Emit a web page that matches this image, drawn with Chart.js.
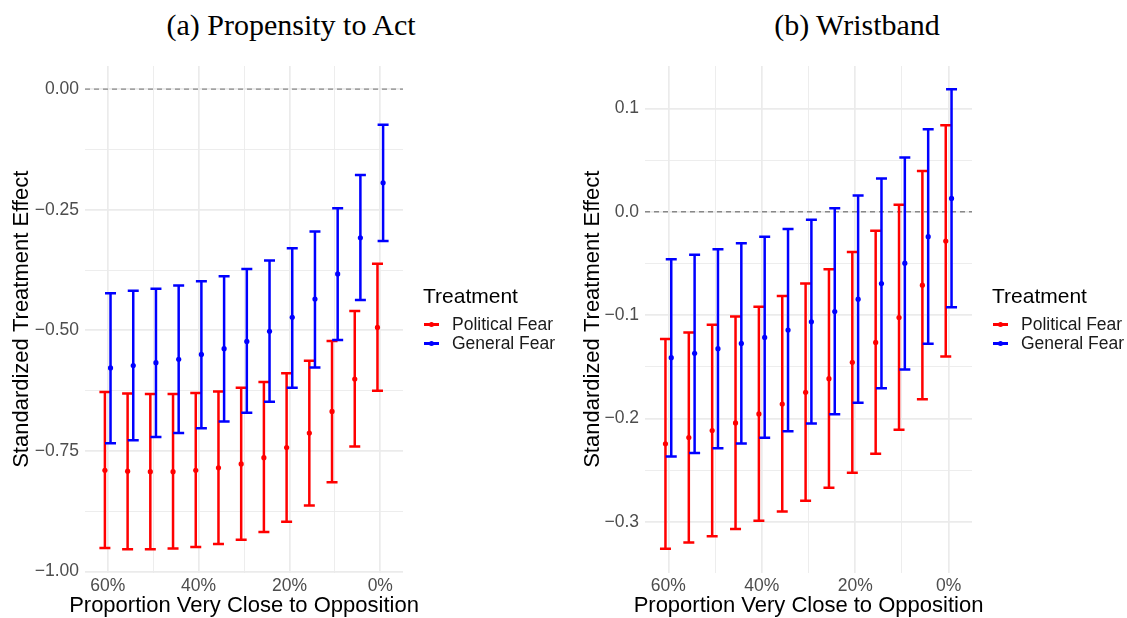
<!DOCTYPE html>
<html>
<head>
<meta charset="utf-8">
<script src="https://cdn.jsdelivr.net/npm/chart.js@4.4.1/dist/chart.umd.min.js"></script>
<style>
  body { margin: 0; width: 1127px; height: 618px; background: #fff; position: relative; overflow: hidden;
         font-family: "Liberation Sans", Arial, sans-serif; }
  canvas { position: absolute; top: 0; }
  #chartA { left: 0; }
  #chartB { left: 560px; }
  .panel-title { position: absolute; top: 10px; font-family: "Liberation Serif", "Times New Roman", serif;
                 font-size: 30px; line-height: 30px; white-space: nowrap; transform: translateX(-50%); color: #000; }
  .lg-title { position: absolute; font-size: 21px; line-height: 21px; color: #000; white-space: nowrap; }
  .lg-label { position: absolute; font-size: 17.5px; line-height: 17.5px; color: #1a1a1a; white-space: nowrap; }
  .lg-line { position: absolute; width: 15px; height: 2.5px; }
  .lg-dot { position: absolute; width: 5px; height: 5px; border-radius: 50%; }
</style>
</head>
<body>
<div class="panel-title" style="left:291px">(a) Propensity to Act</div>
<div class="panel-title" style="left:857px">(b) Wristband</div>
<canvas id="chartA" width="560" height="618"></canvas>
<canvas id="chartB" width="567" height="618"></canvas>
<script>
// x positions (proportion very close to opposition, %)
const proportions = [60, 55, 50, 45, 40, 35, 30, 25, 20, 15, 10, 5, 0];

const seriesNames = ['Political Fear', 'General Fear'];
const seriesColors = ['#ff0000', '#0000ff'];

// (a) Propensity to Act
const actPoliticalEst  = [-0.790, -0.792, -0.793, -0.793, -0.790, -0.785, -0.777, -0.764, -0.743, -0.713, -0.668, -0.601, -0.494];
const actPoliticalLow  = [-0.951, -0.954, -0.954, -0.952, -0.949, -0.943, -0.934, -0.918, -0.897, -0.863, -0.815, -0.741, -0.625];
const actPoliticalHigh = [-0.628, -0.631, -0.632, -0.632, -0.630, -0.627, -0.619, -0.607, -0.589, -0.563, -0.522, -0.460, -0.362];
const actGeneralEst    = [-0.578, -0.573, -0.567, -0.560, -0.550, -0.538, -0.523, -0.502, -0.473, -0.435, -0.383, -0.308, -0.194];
const actGeneralLow    = [-0.734, -0.728, -0.721, -0.713, -0.703, -0.689, -0.671, -0.648, -0.619, -0.577, -0.520, -0.437, -0.315];
const actGeneralHigh   = [-0.423, -0.418, -0.414, -0.407, -0.398, -0.388, -0.373, -0.355, -0.330, -0.295, -0.247, -0.178, -0.074];

// (b) Wristband
const wbPoliticalEst  = [-0.2245, -0.2184, -0.2117, -0.2043, -0.1956, -0.1860, -0.1747, -0.1615, -0.1457, -0.1264, -0.1023, -0.0710, -0.0283];
const wbPoliticalLow  = [-0.3260, -0.3200, -0.3140, -0.3070, -0.2990, -0.2900, -0.2796, -0.2670, -0.2525, -0.2340, -0.2110, -0.1815, -0.1400];
const wbPoliticalHigh = [-0.1232, -0.1168, -0.1094, -0.1013, -0.0920, -0.0814, -0.0695, -0.0556, -0.0389, -0.0183, 0.0068, 0.0393, 0.0837];
const wbGeneralEst    = [-0.1412, -0.1370, -0.1325, -0.1274, -0.1216, -0.1145, -0.1065, -0.0965, -0.0846, -0.0695, -0.0498, -0.0241, 0.0129];
const wbGeneralLow    = [-0.2368, -0.2333, -0.2287, -0.2242, -0.2187, -0.2123, -0.2049, -0.1959, -0.1847, -0.1708, -0.1525, -0.1277, -0.0923];
const wbGeneralHigh   = [-0.0460, -0.0415, -0.0363, -0.0305, -0.0241, -0.0167, -0.0077, 0.0033, 0.0158, 0.0322, 0.0525, 0.0798, 0.1184];

// ticks
const xMajorTicks = [60, 40, 20, 0];
const xMinorTicks = [50, 30, 10];
const xTickLabels = ['60%', '40%', '20%', '0%'];

const actYMajorTicks = [0, -0.25, -0.5, -0.75, -1];
const actYMinorTicks = [-0.125, -0.375, -0.625, -0.875];
const actYTickLabels = ['0.00', '\u22120.25', '\u22120.50', '\u22120.75', '\u22121.00'];

const wbYMajorTicks = [0.1, 0, -0.1, -0.2, -0.3];
const wbYMinorTicks = [0.05, -0.05, -0.15, -0.25];
const wbYTickLabels = ['0.1', '0.0', '\u22120.1', '\u22120.2', '\u22120.3'];

const xTitle = 'Proportion Very Close to Opposition';
const yTitle = 'Standardized Treatment Effect';

Chart.defaults.font.family = '"Liberation Sans", Arial, sans-serif';
Chart.defaults.animation = false;

const DODGE = 0.62;
const CAP = 5.5;

function isIn(list, v) {
  return list.some(m => Math.abs(m - v) < 1e-9);
}

// dashed zero line + error bars behind the points; x title drawn by hand
// (Chart.js squeezes a scale title to the axis width)
const errorBarPlugin = {
  id: 'errorBars',
  beforeDatasetsDraw(chart) {
    const { ctx, chartArea, scales: { x, y } } = chart;
    ctx.save();
    const y0 = y.getPixelForValue(0);
    ctx.strokeStyle = '#888888';
    ctx.lineWidth = 1.3;
    ctx.setLineDash([5, 4]);
    ctx.beginPath();
    ctx.moveTo(chartArea.left, y0);
    ctx.lineTo(chartArea.right, y0);
    ctx.stroke();
    ctx.setLineDash([]);
    chart.data.datasets.forEach(ds => {
      ctx.strokeStyle = ds.backgroundColor;
      ctx.lineWidth = 2.5;
      ds.data.forEach(pt => {
        const px = x.getPixelForValue(pt.x);
        const lo = y.getPixelForValue(pt.low);
        const hi = y.getPixelForValue(pt.high);
        ctx.beginPath();
        ctx.moveTo(px, lo); ctx.lineTo(px, hi);
        ctx.moveTo(px - CAP, lo); ctx.lineTo(px + CAP, lo);
        ctx.moveTo(px - CAP, hi); ctx.lineTo(px + CAP, hi);
        ctx.stroke();
      });
    });
    ctx.restore();
  },
  afterDraw(chart) {
    const { ctx, chartArea } = chart;
    ctx.save();
    ctx.font = '22px "Liberation Sans", Arial, sans-serif';
    ctx.fillStyle = '#000';
    ctx.textAlign = 'center';
    ctx.textBaseline = 'middle';
    ctx.fillText(xTitle, (chartArea.left + chartArea.right) / 2, 606);
    ctx.restore();
  }
};

function makeSeries(est, low, high, offset) {
  return proportions.map((p, i) => ({ x: p + offset, y: est[i], low: low[i], high: high[i] }));
}

function buildChart(id, series, yOpts) {
  const datasets = series.map((s, k) => ({
    label: seriesNames[k],
    data: s,
    backgroundColor: seriesColors[k],
    borderWidth: 0,
    pointRadius: 2.6,
    pointHoverRadius: 2.6
  }));

  const gridColor = '#ebebeb';
  return new Chart(document.getElementById(id), {
    type: 'scatter',
    data: { datasets },
    plugins: [errorBarPlugin],
    options: {
      responsive: false,
      events: [],
      layout: { padding: { top: 66, right: yOpts.rightPad, bottom: 0, left: 0 } },
      plugins: { legend: { display: false }, tooltip: { enabled: false } },
      scales: {
        x: {
          type: 'linear',
          reverse: true,
          min: -5,
          max: 65,
          afterFit(scale) { scale.height = 45.5; },
          afterBuildTicks(scale) {
            scale.ticks = xMajorTicks.concat(xMinorTicks).sort((a, b) => a - b).map(v => ({ value: v }));
          },
          ticks: {
            autoSkip: false,
            maxRotation: 0,
            padding: 3,
            color: '#4d4d4d',
            font: { size: 17.5 },
            callback: v => { const i = xMajorTicks.findIndex(m => Math.abs(m - v) < 1e-9); return i >= 0 ? xTickLabels[i] : ''; }
          },
          grid: {
            drawTicks: false,
            color: gridColor,
            lineWidth: c => (c.tick && isIn(xMajorTicks, c.tick.value)) ? 1.7 : 0.9
          },
          border: { display: false },
          title: { display: false }
        },
        y: {
          type: 'linear',
          min: yOpts.min,
          max: yOpts.max,
          afterFit(scale) { scale.width = 85; },
          afterBuildTicks(scale) {
            scale.ticks = yOpts.major.concat(yOpts.minor).sort((a, b) => a - b).map(v => ({ value: v }));
          },
          ticks: {
            autoSkip: false,
            padding: 6,
            color: '#4d4d4d',
            font: { size: 17.5 },
            callback: v => { const i = yOpts.major.findIndex(m => Math.abs(m - v) < 1e-9); return i >= 0 ? yOpts.labels[i] : ''; }
          },
          grid: {
            drawTicks: false,
            color: gridColor,
            lineWidth: c => (c.tick && isIn(yOpts.major, c.tick.value)) ? 1.7 : 0.9
          },
          border: { display: false },
          title: {
            display: true,
            text: yTitle,
            color: '#000',
            font: { size: 22, lineHeight: 1 },
            padding: { top: yOpts.titlePad, bottom: 0 }
          }
        }
      }
    }
  });
}

buildChart('chartA', [
  makeSeries(actPoliticalEst, actPoliticalLow, actPoliticalHigh, DODGE),
  makeSeries(actGeneralEst, actGeneralLow, actGeneralHigh, -DODGE)
], { min: -1.002, max: 0.048, major: actYMajorTicks, minor: actYMinorTicks, labels: actYTickLabels, titlePad: 11, rightPad: 157 });

buildChart('chartB', [
  makeSeries(wbPoliticalEst, wbPoliticalLow, wbPoliticalHigh, DODGE),
  makeSeries(wbGeneralEst, wbGeneralLow, wbGeneralHigh, -DODGE)
], { min: -0.349, max: 0.141, major: wbYMajorTicks, minor: wbYMinorTicks, labels: wbYTickLabels, titlePad: 21.5, rightPad: 155 });

// legends (HTML, right of each panel)
function addLegend(left) {
  const t = document.createElement('div');
  t.className = 'lg-title';
  t.textContent = 'Treatment';
  t.style.left = left + 'px';
  t.style.top = '285px';
  document.body.appendChild(t);
  seriesNames.forEach((name, k) => {
    const cy = 324.3 + k * 19;
    const line = document.createElement('div');
    line.className = 'lg-line';
    line.style.background = seriesColors[k];
    line.style.left = (left + 1) + 'px';
    line.style.top = (cy - 1.25) + 'px';
    const dot = document.createElement('div');
    dot.className = 'lg-dot';
    dot.style.background = seriesColors[k];
    dot.style.left = (left + 6) + 'px';
    dot.style.top = (cy - 2.5) + 'px';
    const lab = document.createElement('div');
    lab.className = 'lg-label';
    lab.textContent = name;
    lab.style.left = (left + 29) + 'px';
    lab.style.top = (cy - 8.8) + 'px';
    document.body.append(line, dot, lab);
  });
}
addLegend(423);
addLegend(992);
</script>
</body>
</html>
